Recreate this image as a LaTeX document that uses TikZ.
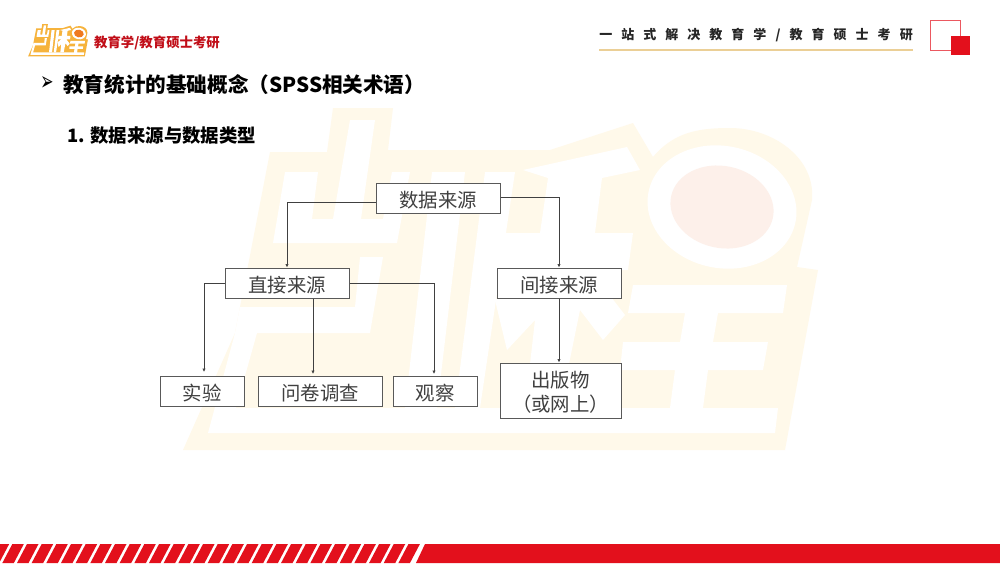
\documentclass[tikz,border=0pt]{standalone}
\usepackage{fontspec}
\usepackage{amsmath}
\usepackage{color}
\usetikzlibrary{arrows.meta}
\setmainfont{Noto Sans CJK SC}
\newfontfamily\symfont{DejaVu Sans}
\newfontfamily\tagfont[LetterSpace=69.5]{Noto Sans CJK SC}
\definecolor{kcred}{HTML}{E3101C}
\definecolor{kcgold}{HTML}{EBCF96}
\definecolor{kccream}{HTML}{FFF9EA}
\definecolor{kcblush}{HTML}{FDF0EA}
\definecolor{logogold}{HTML}{F6B33C}
\definecolor{logoball}{HTML}{EF7A1F}
\definecolor{boxgray}{HTML}{595959}
\definecolor{textgray}{HTML}{404040}
\tikzset{
  srcbox/.style={draw=boxgray, line width=1pt, fill=white, text=textgray, font=\fontsize{19.4}{24}\selectfont, inner sep=0pt, align=center, minimum height=30, text height=20, text depth=2},
  conn/.style={-{Latex[length=3.5,width=3.5]}, textgray, line width=1pt}
}
% shape of the brand mark, args: band colour, ball colour
\newcommand{\brandmark}[2]{
\fill [#1] (183,450) -- (235,333) -- (240,307) -- (270,152) -- (327,152) -- (333,108) -- (393,108) -- (388,150) -- (550,150) -- (633,123) -- (653,157) to [out=50, in=180] (730,128) to [out=0, in=85] (812,200) -- (797,267) -- (818,270) -- (785,450) -- cycle;
\fill [white] (285,172) -- (318,172) -- (312,219) -- (333,219) -- (350,120) -- (375,120) -- (361,219) -- (383,219) -- (392,172) -- (410,172) -- (397,243) -- (273,243) -- cycle;
\fill [white] (240,307) -- (355,307) -- (360,257) -- (383,257) -- (370,333) -- (257,333) -- (236,408) -- (670,408) -- (675,370) -- (620,370) -- (623,342) -- (680,342) -- (685,313) -- (628,313) -- (633,285) -- (787,285) -- (783,313) -- (718,313) -- (713,342) -- (768,342) -- (763,370) -- (708,370) -- (703,408) -- (778,408) -- (775,433) -- (208,433) -- (235,333) -- cycle;
\fill [white] (432,172) -- (465,172) -- (437,408) -- (405,408) -- cycle;
\fill [white] (485,172) -- (515,172) -- (480,408) -- (455,408) -- cycle;
\fill [white] (523,170) -- (627,147) -- (640,170) -- (602,178) -- (595,233) -- (633,233) -- (628,270) -- (590,270) -- (625,315) -- (603,340) -- (580,310) -- (560,408) -- (525,408) -- (535,320) -- (507,350) -- (495,300) -- (535,270) -- (500,270) -- (505,233) -- (540,233) -- (548,178) -- cycle;
\fill [white, rotate around={-12:(722,207)}] (722,207) ellipse (75 and 61);
\fill [#2, rotate around={-12:(722,207)}] (722,207) ellipse (52 and 41);
}
\begin{document}
\begin{tikzpicture}[x=1pt, y=-1pt]
\useasboundingbox (0,0) rectangle (1000,563);
\fill [white] (0,0) rectangle (1000,563);
% watermark
\begin{scope}
\brandmark{kccream}{kcblush}
\end{scope}
% small logo
\begin{scope}[shift={(10.8,14)}, scale=0.0943]
\brandmark{logogold}{logoball}
\end{scope}
% header
\node (brand) at (157,43) [text=kcred!85!black, font=\fontsize{13.4}{16}\bfseries\selectfont]{教育学/教育硕士考研};
\node (slogan) at (756,35) [text=black!85, font=\fontsize{13}{16}\tagfont\bfseries]{一站式解决教育学/教育硕士考研};
\draw [kcgold, line width=1.5pt] (599,50) -- (913,50);
\draw [kcred!70!white, line width=1pt] (930.5,20.5) rectangle (960.5,50.5);
\fill [kcred] (951,36) rectangle (969.5,54.5);
% titles
\node (bullet) at (47,83) [font=\fontsize{15}{18}\symfont]{\scalebox{1.05}[1.75]{➢}};
\node (title) at (63,85) [anchor=west, inner sep=0pt, font=\fontsize{20.6}{25}\bfseries\selectfont]{教育统计的基础概念（SPSS相关术语）};
\node (subtitle) at (67,136) [anchor=west, inner sep=0pt, font=\fontsize{18.4}{22}\bfseries\selectfont]{1. 数据来源与数据类型};
% boxes
\node (source) at (438,198) [srcbox, minimum width=124]{数据来源};
\node (direct) at (287,283) [srcbox, minimum width=124]{直接来源};
\node (indirect) at (559,283) [srcbox, minimum width=124]{间接来源};
\node (experiment) at (202,391) [srcbox, minimum width=84]{实验};
\node (survey) at (320,391) [srcbox, minimum width=124]{问卷调查};
\node (observe) at (435,391) [srcbox, minimum width=84]{观察};
\node (publish) at (560.5,390.5) [srcbox, minimum width=121, minimum height=55, text height=43]{出版物\\（或网上）};
% connectors
\coordinate (expend) at (204,372);
\coordinate (survend) at (313,374);
\coordinate (obsend) at (434,374);
\draw [conn] ([yshift=-4pt]source.west) -| (direct.north);
\draw [conn] ([yshift=1pt]source.east) -| (indirect.north);
\draw [conn] (direct.west) -| (expend);
\draw [conn] (survend |- direct.south) -- (survend);
\draw [conn] (direct.east) -| (obsend);
\draw [conn] (indirect.south) -- (indirect.south |- publish.north);
% bottom band
\foreach \i in {0,...,29}
  \fill [kcred] ({\i*14.67-17},544) -- ({\i*14.67-5.5},544) -- ({\i*14.67-15.5},563) -- ({\i*14.67-27},563) -- cycle;
\fill [kcred] (425,544) -- (1000,544) -- (1000,563) -- (416,563) -- cycle;
\end{tikzpicture}
\end{document}
